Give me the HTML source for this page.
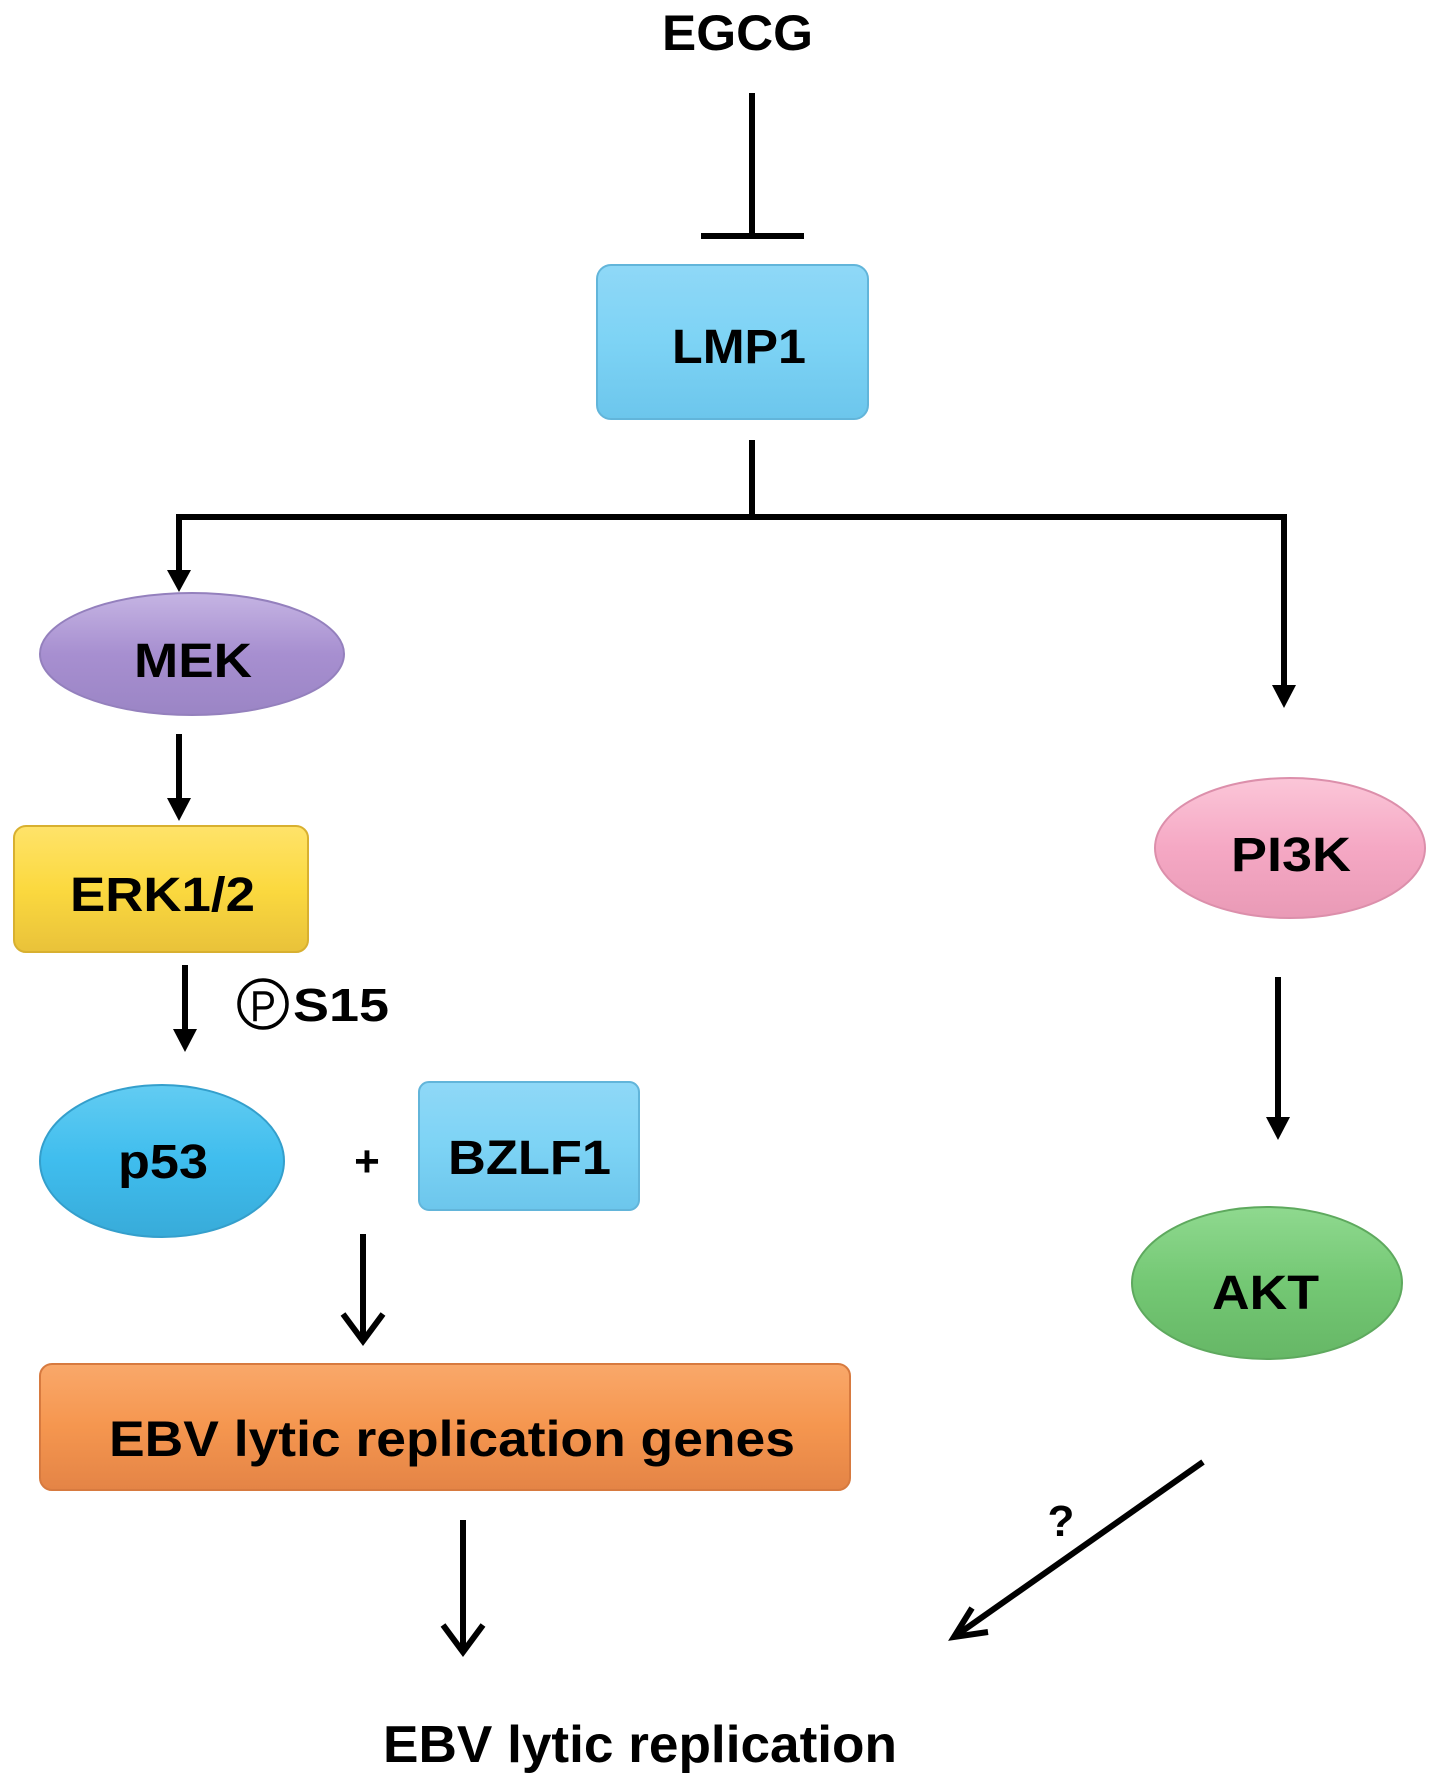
<!DOCTYPE html>
<html><head><meta charset="utf-8"><style>
html,body{margin:0;padding:0;background:#fff}
svg{display:block}
text{font-family:"Liberation Sans",Arial,sans-serif;font-weight:bold;fill:#000}
</style></head><body>
<svg width="1441" height="1783" viewBox="0 0 1441 1783" xmlns="http://www.w3.org/2000/svg">
<defs>
<linearGradient id="blue" x1="0" y1="0" x2="0" y2="1"><stop offset="0" stop-color="#8fd8f7"/><stop offset="0.5" stop-color="#7dd3f5"/><stop offset="1" stop-color="#6cc6ec"/></linearGradient>
<linearGradient id="yel" x1="0" y1="0" x2="0" y2="1"><stop offset="0" stop-color="#ffe36a"/><stop offset="0.5" stop-color="#fbd93f"/><stop offset="1" stop-color="#e9c23a"/></linearGradient>
<linearGradient id="org" x1="0" y1="0" x2="0" y2="1"><stop offset="0" stop-color="#f9a86a"/><stop offset="0.5" stop-color="#f5964f"/><stop offset="1" stop-color="#e48446"/></linearGradient>
<linearGradient id="pur" x1="0" y1="0" x2="0" y2="1"><stop offset="0" stop-color="#c5b4e3"/><stop offset="0.5" stop-color="#a78fd0"/><stop offset="1" stop-color="#9b85c5"/></linearGradient>
<linearGradient id="cyan" x1="0" y1="0" x2="0" y2="1"><stop offset="0" stop-color="#62ccf2"/><stop offset="0.5" stop-color="#3fbdee"/><stop offset="1" stop-color="#38abd9"/></linearGradient>
<linearGradient id="pink" x1="0" y1="0" x2="0" y2="1"><stop offset="0" stop-color="#fbc6d8"/><stop offset="0.5" stop-color="#f5a8c4"/><stop offset="1" stop-color="#e99ab6"/></linearGradient>
<linearGradient id="grn" x1="0" y1="0" x2="0" y2="1"><stop offset="0" stop-color="#8fd98f"/><stop offset="0.5" stop-color="#74c874"/><stop offset="1" stop-color="#66b766"/></linearGradient>
<marker id="ah" markerWidth="6" markerHeight="6" refX="3" refY="5" orient="auto" markerUnits="strokeWidth" viewBox="0 0 6 6"><path d="M0,0 L6,0 L3,6 z" fill="#000"/></marker>
</defs>

<g stroke="#000" stroke-width="6" fill="none">
<!-- inhibition -->
<line x1="752" y1="93" x2="752" y2="237"/>
<line x1="701" y1="236" x2="804" y2="236"/>
<!-- LMP1 branch -->
<line x1="752" y1="440" x2="752" y2="517"/>
<line x1="176" y1="517" x2="1287" y2="517"/>
<line x1="179" y1="514" x2="179" y2="575"/>
<line x1="1284" y1="514" x2="1284" y2="690"/>
<line x1="179" y1="734" x2="179" y2="803"/>
<line x1="185" y1="965" x2="185" y2="1034"/>
<line x1="1278" y1="977" x2="1278" y2="1122"/>
<!-- open arrows -->
<line x1="363" y1="1234" x2="363" y2="1341"/>
<polyline points="343,1314 363,1341 383,1314"/>
<line x1="463" y1="1520" x2="463" y2="1652"/>
<polyline points="443,1625 463,1652 483,1625"/>
<line x1="1203" y1="1462" x2="954" y2="1637"/>
<polyline points="972,1608 954,1637 988,1632"/>
</g>
<g fill="#000">
<path d="M167,570 L191,570 L179,592 z"/>
<path d="M1272,685 L1296,685 L1284,708 z"/>
<path d="M167,798 L191,798 L179,821 z"/>
<path d="M173,1029 L197,1029 L185,1052 z"/>
<path d="M1266,1117 L1290,1117 L1278,1140 z"/>
</g>

<!-- shapes -->
<rect x="597" y="265" width="271" height="154" rx="14" fill="url(#blue)" stroke="#62b5da" stroke-width="2"/>
<ellipse cx="192" cy="654" rx="152" ry="61" fill="url(#pur)" stroke="#9480bd" stroke-width="2"/>
<rect x="14" y="826" width="294" height="126" rx="12" fill="url(#yel)" stroke="#d8b030" stroke-width="2"/>
<ellipse cx="162" cy="1161" rx="122" ry="76" fill="url(#cyan)" stroke="#349fcc" stroke-width="2"/>
<rect x="419" y="1082" width="220" height="128" rx="10" fill="url(#blue)" stroke="#62b5da" stroke-width="2"/>
<rect x="40" y="1364" width="810" height="126" rx="12" fill="url(#org)" stroke="#d77a3f" stroke-width="2"/>
<ellipse cx="1290" cy="848" rx="135" ry="70" fill="url(#pink)" stroke="#dc8fab" stroke-width="2"/>
<ellipse cx="1267" cy="1283" rx="135" ry="76" fill="url(#grn)" stroke="#5ea95e" stroke-width="2"/>

<!-- P circle -->
<circle cx="263" cy="1004" r="24" fill="none" stroke="#000" stroke-width="3.5"/>
<text x="263" y="1021" font-size="44" text-anchor="middle" textLength="26" lengthAdjust="spacingAndGlyphs" style="font-weight:normal">P</text>

<!-- labels -->
<text x="662" y="50" font-size="50" textLength="151" lengthAdjust="spacingAndGlyphs">EGCG</text>
<text x="672" y="363" font-size="48" textLength="134" lengthAdjust="spacingAndGlyphs">LMP1</text>
<text x="134" y="677" font-size="48" textLength="118" lengthAdjust="spacingAndGlyphs">MEK</text>
<text x="70" y="911" font-size="48" textLength="185" lengthAdjust="spacingAndGlyphs">ERK1/2</text>
<text x="293" y="1021" font-size="46" textLength="96" lengthAdjust="spacingAndGlyphs">S15</text>
<text x="118" y="1178" font-size="48" textLength="90" lengthAdjust="spacingAndGlyphs">p53</text>
<text x="367" y="1176" font-size="44" text-anchor="middle">+</text>
<text x="448" y="1174" font-size="48" textLength="163" lengthAdjust="spacingAndGlyphs">BZLF1</text>
<text x="109" y="1456" font-size="50" textLength="686" lengthAdjust="spacingAndGlyphs">EBV lytic replication genes</text>
<text x="1231" y="871" font-size="48" textLength="120" lengthAdjust="spacingAndGlyphs">PI3K</text>
<text x="1212" y="1309" font-size="48" textLength="107" lengthAdjust="spacingAndGlyphs">AKT</text>
<text x="1061" y="1536" font-size="44" text-anchor="middle">?</text>
<text x="383" y="1762" font-size="52" textLength="514" lengthAdjust="spacingAndGlyphs">EBV lytic replication</text>
</svg>
</body></html>
